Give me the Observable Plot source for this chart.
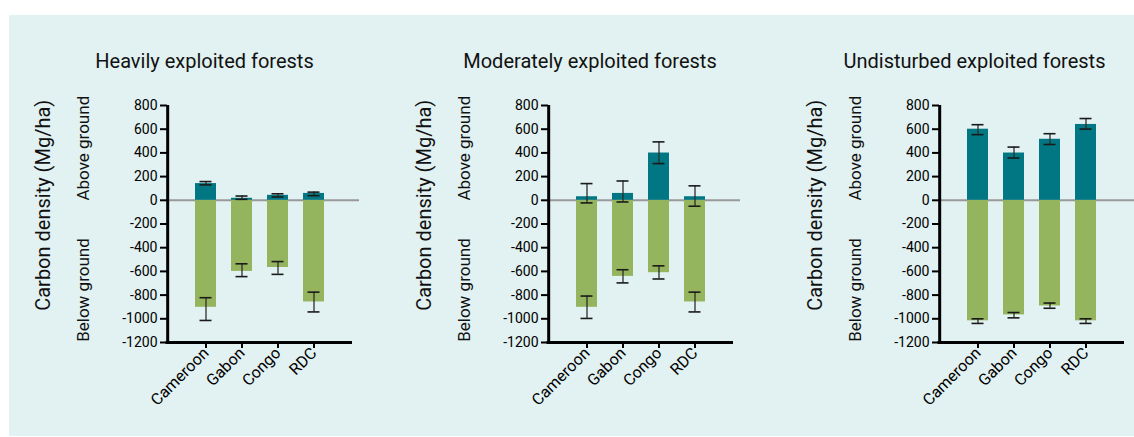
<!DOCTYPE html>
<html>
<head>
<meta charset="utf-8">
<script src="https://cdn.jsdelivr.net/npm/d3@7"></script>
<script src="https://cdn.jsdelivr.net/npm/@observablehq/plot@0.6"></script>
<style>
  html, body { margin: 0; padding: 0; background: #ffffff; }
  #root { position: relative; width: 1134px; height: 437px; overflow: hidden; background: #ffffff; font-family: Roboto, "Noto Sans", sans-serif; }
  #box { position: absolute; left: 9px; top: 15px; width: 1125px; height: 421px; background: #e2f1f1; }
  .title { position: absolute; top: 49px; width: 340px; text-align: center; font-size: 20px; color: #111; }
  .panel { position: absolute; top: 80px; z-index: 2; }
  .panel svg { overflow: visible; }
</style>
</head>
<body>
<div id="root"><div id="box"></div></div>
<script>
const categories = ["Cameroon", "Gabon", "Congo", "RDC"];
const panelTitles = ["Heavily exploited forests", "Moderately exploited forests", "Undisturbed exploited forests"];
const yTicks = [800, 600, 400, 200, 0, -200, -400, -600, -800, -1000, -1200];
const yLabel = "Carbon density (Mg/ha)";
const aboveLabel = "Above ground";
const belowLabel = "Below ground";

// Above ground carbon (Mg/ha), per panel, per country
const aboveMean = [[141, 17, 42, 58], [30, 58, 399, 30], [600, 399, 515, 640]];
const aboveLow  = [[130, 8, 28, 39], [-22, -14, 310, -50], [554, 357, 471, 601]];
const aboveHigh = [[158, 36, 55, 69], [141, 163, 493, 122], [638, 449, 562, 690]];
// Below ground carbon (shown as negative)
const belowMean = [[-903, -600, -567, -858], [-903, -642, -611, -858], [-1017, -967, -892, -1017]];
const belowLow  = [[-1014, -644, -625, -942], [-997, -697, -664, -942], [-1039, -992, -911, -1039]];
const belowHigh = [[-822, -536, -517, -775], [-808, -586, -553, -775], [-1000, -947, -867, -1000]];

const panelLefts = [20, 401, 792];
const titleCenters = [204.5, 590, 974.5];
const zeroExtend = [7, 7, 11];
const teal = "#007782";
const green = "#94b55d";
const axisColor = "#000000";
const font = "Roboto, 'Noto Sans', sans-serif";

const W = 342, H = 340, ML = 147, MR = 10, MT = 25, MB = 78;
const PI = 0.418, PO = 0.77;
const yMin = -1200, yMax = 800;

const root = document.getElementById("root");

panelTitles.forEach((title, p) => {
  const rows = categories.map((c, i) => ({
    country: c,
    above: aboveMean[p][i], aLo: aboveLow[p][i], aHi: aboveHigh[p][i],
    below: belowMean[p][i], bLo: belowLow[p][i], bHi: belowHigh[p][i],
    axisBottom: yMin, axisTop: yMax
  }));
  // distance from the frame's left edge to the first band centre
  const frameW = W - ML - MR;
  const step = frameW / (categories.length - PI + 2 * PO);
  const firstCenterOffset = PO * step + (1 - PI) * step / 2;

  const chart = Plot.plot({
    width: W, height: H,
    marginLeft: ML, marginRight: MR, marginTop: MT, marginBottom: MB,
    style: { background: "transparent", fontFamily: font, color: "#000", overflow: "visible" },
    x: { domain: categories, paddingInner: PI, paddingOuter: PO, label: null },
    y: { domain: [yMin, yMax], label: null },
    marks: [
      Plot.ruleY([0], { stroke: "#999", strokeWidth: 2, insetRight: -zeroExtend[p] }),
      Plot.barY(rows, { x: "country", y1: 0, y2: "below", fill: green }),
      Plot.barY(rows, { x: "country", y1: 0, y2: "above", fill: teal }),
      Plot.ruleX(rows, { x: "country", y1: "bLo", y2: "bHi", stroke: "#2a2a2a", strokeWidth: 1.6, strokeOpacity: 0.8 }),
      Plot.tickY(rows, { x: "country", y: "bLo", stroke: "#1a1a1a", strokeWidth: 1.6, insetLeft: 4.5, insetRight: 4.5 }),
      Plot.tickY(rows, { x: "country", y: "bHi", stroke: "#1a1a1a", strokeWidth: 1.6, insetLeft: 4.5, insetRight: 4.5 }),
      Plot.ruleX(rows, { x: "country", y1: "aLo", y2: "aHi", stroke: "#2a2a2a", strokeWidth: 1.6, strokeOpacity: 0.8 }),
      Plot.tickY(rows, { x: "country", y: "aLo", stroke: "#1a1a1a", strokeWidth: 1.6, insetLeft: 4.5, insetRight: 4.5 }),
      Plot.tickY(rows, { x: "country", y: "aHi", stroke: "#1a1a1a", strokeWidth: 1.6, insetLeft: 4.5, insetRight: 4.5 }),
      // axis lines
      Plot.ruleY(rows.slice(0, 1), { y: "axisBottom", stroke: axisColor, strokeWidth: 3, insetLeft: -1.5 }),
      Plot.ruleX(rows.slice(0, 1), { x: "country", y1: "axisBottom", y2: "axisTop", dx: -firstCenterOffset, stroke: axisColor, strokeWidth: 3 }),
      Plot.axisY({ ticks: yTicks, tickFormat: d => String(d), tickSize: 7, tickPadding: 3, fontSize: 14, strokeWidth: 2, label: null }),
      Plot.axisX({ tickRotate: -45, tickSize: 6, tickPadding: 2, fontSize: 16, strokeWidth: 2, label: null }),
      Plot.text([yLabel], { frameAnchor: "left", y: -42, dx: -124, rotate: -90, fontSize: 20, textAnchor: "middle", fill: "#111" }),
      Plot.text([aboveLabel], { frameAnchor: "left", y: 440, dx: -84, rotate: -90, fontSize: 17, textAnchor: "middle", fill: "#111" }),
      Plot.text([belowLabel], { frameAnchor: "left", y: -757, dx: -84, rotate: -90, fontSize: 17, textAnchor: "middle", fill: "#111" })
    ]
  });
  const wrap = document.createElement("div");
  wrap.className = "panel";
  wrap.style.left = panelLefts[p] + "px";
  wrap.appendChild(chart);
  root.appendChild(wrap);

  const t = document.createElement("div");
  t.className = "title";
  t.textContent = title;
  t.style.left = (titleCenters[p] - 170) + "px";
  root.appendChild(t);
});
</script>
</body>
</html>
